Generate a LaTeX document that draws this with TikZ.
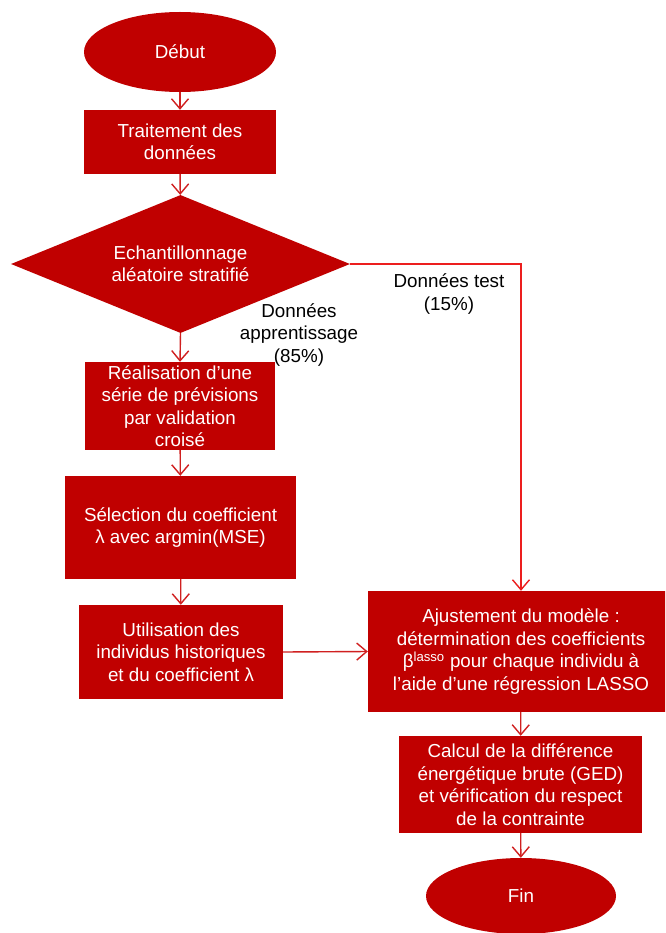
\documentclass[tikz,border=0pt]{standalone}
\usepackage{fontspec}
\setmainfont{Liberation Sans}
\usetikzlibrary{shapes.geometric,arrows.meta}
\definecolor{boxred}{RGB}{192,0,0}
\definecolor{arrred}{RGB}{208,32,32}
\definecolor{testred}{RGB}{236,30,30}
\tikzset{
  base/.style={fill=boxred, draw=none, text=white, align=center, inner sep=0pt,
    font=\fontsize{18.8}{22.5}\selectfont},
  term/.style={base, ellipse},
  proc/.style={base, rectangle},
  dec/.style={base, diamond, aspect=2.45},
  conn/.style={draw=arrred, line width=1.4pt, -{Straight Barb[length=10pt,width=17pt,line width=1.4pt]}},
  testconn/.style={draw=testred, line width=1.4pt, -{Straight Barb[length=10pt,width=17pt,line width=1.4pt]}},
  lbl/.style={text=black, align=center, inner sep=0pt, font=\fontsize{18.8}{22.5}\selectfont}
}
\begin{document}
\begin{tikzpicture}[x=1pt,y=-1pt]
\clip (0,0) rectangle (665,933);
\fill[white] (0,0) rectangle (665,933);

\node[term, minimum width=192pt, minimum height=80pt] (debut) at (180,52) {Début};
\node[proc, minimum width=192pt, minimum height=64pt] (trait) at (180,142) {Traitement des\\données};
\node[dec, minimum width=339pt, minimum height=138pt] (ech) at (180.5,264) {Echantillonnage\\aléatoire stratifié};
\node[proc, minimum width=190pt, minimum height=88pt] (real) at (180,406) {Réalisation d’une\\série de prévisions\\par validation\\croisé};
\node[proc, minimum width=231pt, minimum height=103pt] (sel) at (180.5,527.5) {Sélection du coefficient\\λ avec argmin(MSE)};
\node[proc, minimum width=204pt, minimum height=94pt] (util) at (181,652) {Utilisation des\\individus historiques\\et du coefficient λ};
\node[proc, minimum width=306pt, minimum height=121pt] (ajust) at (521,651.5) {Ajustement du modèle :\\détermination des coefficients\\β\textsuperscript{lasso} pour chaque individu à\\l’aide d’une régression LASSO};
\node[proc, minimum width=243pt, minimum height=97pt] (calc) at (520.5,784.5) {Calcul de la différence\\énergétique brute (GED)\\et vérification du respect\\de la contrainte};
\node[term, minimum width=190pt, minimum height=76pt] (fin) at (521,896) {Fin};

\node[lbl] (lapp) at (299,335) {Données\\apprentissage\\(85\%)};
\node[lbl] (ltest) at (449,294) {Données test\\(15\%)};

\coordinate (corner) at (521,264);

\draw[conn] (debut) -- (trait);
\draw[conn] (trait) -- (ech);
\draw[conn] (ech.south) -- (real.north);
\draw[conn] (real) -- (sel);
\draw[conn] (sel) -- (util);
\draw[conn] (util.east) -- (ajust.west);
\draw[testconn] (ech.east) -- (corner) -- (ajust.north);
\draw[conn] (ajust) -- (calc);
\draw[conn] (calc) -- (fin);
\end{tikzpicture}
\end{document}
